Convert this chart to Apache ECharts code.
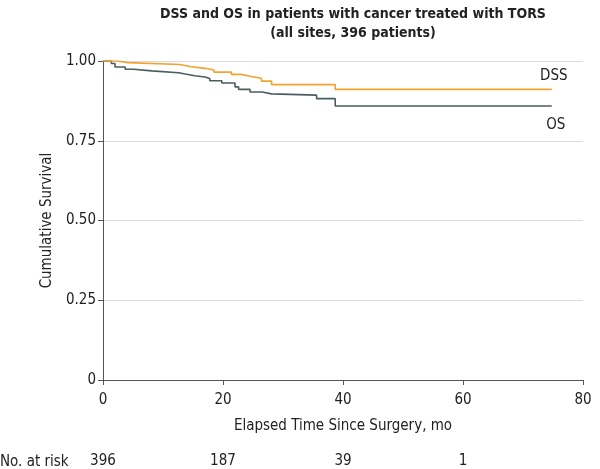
<!DOCTYPE html>
<html>
<head>
<meta charset="utf-8">
<script src="https://cdn.jsdelivr.net/npm/echarts@6/dist/echarts.min.js"></script>
<style>
html,body{margin:0;padding:0;background:#fff;}
#c{width:600px;height:469px;}
</style>
</head>
<body>
<div id="c"></div>
<script>
// Data
var dssTimes = [0, 2.4, 4.2, 12.8, 14.5, 17.0, 18.5, 21.4, 23.0, 24.5, 26.4, 28.1, 38.7, 74.8];
var dssSurv  = [1.0, 0.995, 0.989, 0.983, 0.977, 0.972, 0.965, 0.958, 0.952, 0.946, 0.937, 0.926, 0.911, 0.911];
var osTimes = [0, 1.4, 2.0, 3.7, 5.1, 8.1, 12.6, 13.7, 15.3, 17.0, 17.8, 19.8, 22.0, 22.6, 24.5, 26.5, 28.1, 35.6, 38.7, 74.8];
var osSurv  = [1.0, 0.992, 0.981, 0.974, 0.969, 0.963, 0.959, 0.954, 0.950, 0.945, 0.938, 0.931, 0.919, 0.911, 0.903, 0.897, 0.893, 0.882, 0.859, 0.859];
var riskTimes = [0, 20, 40, 60];
var riskCounts = [396, 187, 39, 1];
var yTicks = [0, 0.25, 0.5, 0.75, 1.0];
var yTickLabels = ['0', '0.25', '0.50', '0.75', '1.00'];

var FONT = '"Liberation Sans Narrow", "DejaVu Sans Condensed", "Roboto Condensed", "Noto Sans", sans-serif';
var DSS_COLOR = '#F2A330';
var OS_COLOR = '#4A5E60';

function pairs(t, s) {
  return t.map(function (x, i) { return [x, s[i]]; });
}
function endMark(t, s, name, pos, off) {
  var n = t.length - 1;
  return {
    silent: true, symbol: 'circle', symbolSize: 0.1,
    itemStyle: { color: 'rgba(0,0,0,0)' },
    label: { show: true, position: pos, offset: off, formatter: name, color: '#222', fontSize: 15, fontFamily: FONT },
    data: [{ coord: [t[n], s[n]] }]
  };
}

var chart = echarts.init(document.getElementById('c'));
chart.setOption({
  animation: false,
  backgroundColor: '#fff',
  title: {
    text: 'DSS and OS in patients with cancer treated with TORS\n(all sites, 396 patients)',
    left: 348, top: 0, textAlign: 'center',
    textStyle: { fontFamily: FONT, fontWeight: 'bold', fontSize: 14, color: '#222', lineHeight: 19 }
  },
  grid: { left: 103, right: 17, top: 61, bottom: 88 },
  xAxis: [{
    type: 'value', min: 0, max: 80, interval: 20,
    name: 'Elapsed Time Since Surgery, mo', nameLocation: 'middle', nameGap: 39,
    nameTextStyle: { fontFamily: FONT, fontSize: 15, color: '#222' },
    axisLine: { show: true, lineStyle: { color: '#555', width: 1 } },
    axisTick: { show: true, length: 5, lineStyle: { color: '#555' } },
    axisLabel: { fontFamily: FONT, fontSize: 15, color: '#222', margin: 13 },
    splitLine: { show: false }
  }, {
    type: 'value', min: 0, max: 80, interval: 20, position: 'bottom', offset: 74,
    axisLine: { show: false }, axisTick: { show: false }, splitLine: { show: false },
    axisLabel: {
      fontFamily: FONT, fontSize: 15, color: '#222', margin: 0,
      formatter: function (v) { var i = riskTimes.indexOf(v); return i >= 0 ? String(riskCounts[i]) : ''; }
    }
  }],
  yAxis: {
    type: 'value', min: 0, max: 1, interval: 0.25,
    name: 'Cumulative Survival', nameLocation: 'middle', nameGap: 41,
    nameTextStyle: { fontFamily: FONT, fontSize: 15, color: '#222' },
    axisLine: { show: true, lineStyle: { color: '#555', width: 1 } },
    axisTick: { show: true, length: 5, lineStyle: { color: '#555' } },
    axisLabel: {
      fontFamily: FONT, fontSize: 15, color: '#222', margin: 7,
      formatter: function (v) { var i = yTicks.indexOf(v); return i >= 0 ? yTickLabels[i] : ''; }
    },
    splitLine: { show: true, lineStyle: { color: '#dcdcdc', width: 1 } }
  },
  graphic: [{
    type: 'text', left: 0, top: 455,
    style: { text: 'No. at risk', fontFamily: FONT, fontSize: 15, fill: '#222' }
  }],
  series: [{
    name: 'DSS', type: 'line', step: 'end', xAxisIndex: 0,
    data: pairs(dssTimes, dssSurv),
    showSymbol: false, symbol: 'none', z: 3,
    lineStyle: { color: DSS_COLOR, width: 1.6 },
    markPoint: endMark(dssTimes, dssSurv, 'DSS', 'top', [2, -1])
  }, {
    name: 'OS', type: 'line', step: 'end', xAxisIndex: 0,
    data: pairs(osTimes, osSurv),
    showSymbol: false, symbol: 'none', z: 2,
    lineStyle: { color: OS_COLOR, width: 1.6 },
    markPoint: endMark(osTimes, osSurv, 'OS', 'bottom', [4, 7])
  }]
});
</script>
</body>
</html>
